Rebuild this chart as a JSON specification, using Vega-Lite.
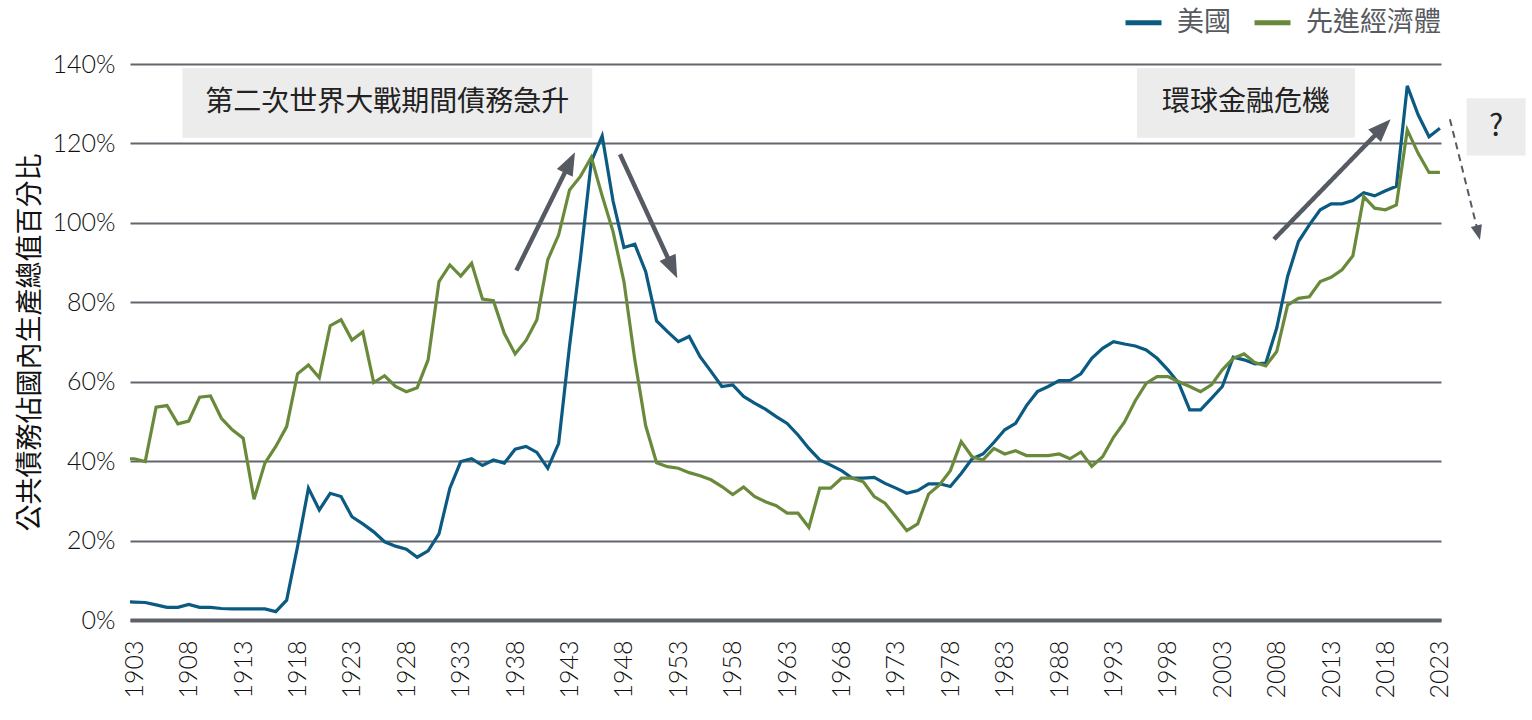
{
  "$schema": "https://vega.github.io/schema/vega-lite/v6.json",
  "autosize": {"type": "none"},
  "padding": {"left": 130, "top": 64, "right": 91, "bottom": 100},
  "width": 1311,
  "height": 556,
  "background": "white",
  "config": {
    "view": {"stroke": null},
    "font": "Noto Sans CJK TC",
    "axis": {
      "labelFont": "Lato",
      "labelFontWeight": 300,
      "labelColor": "#111111",
      "labelFontSize": 25,
      "ticks": false
    }
  },
  "datasets": {
    "debt": [
      {"year": 1902, "series": "美國", "value": 4.6},
      {"year": 1903, "series": "美國", "value": 4.5},
      {"year": 1904, "series": "美國", "value": 4.4},
      {"year": 1905, "series": "美國", "value": 3.8},
      {"year": 1906, "series": "美國", "value": 3.2},
      {"year": 1907, "series": "美國", "value": 3.2},
      {"year": 1908, "series": "美國", "value": 3.9},
      {"year": 1909, "series": "美國", "value": 3.2},
      {"year": 1910, "series": "美國", "value": 3.2},
      {"year": 1911, "series": "美國", "value": 2.9},
      {"year": 1912, "series": "美國", "value": 2.8},
      {"year": 1913, "series": "美國", "value": 2.8},
      {"year": 1914, "series": "美國", "value": 2.8},
      {"year": 1915, "series": "美國", "value": 2.8},
      {"year": 1916, "series": "美國", "value": 2.1},
      {"year": 1917, "series": "美國", "value": 5.0},
      {"year": 1918, "series": "美國", "value": 18.5},
      {"year": 1919, "series": "美國", "value": 33.2},
      {"year": 1920, "series": "美國", "value": 27.7},
      {"year": 1921, "series": "美國", "value": 31.9},
      {"year": 1922, "series": "美國", "value": 31.1},
      {"year": 1923, "series": "美國", "value": 26.0},
      {"year": 1924, "series": "美國", "value": 24.2},
      {"year": 1925, "series": "美國", "value": 22.2},
      {"year": 1926, "series": "美國", "value": 19.7},
      {"year": 1927, "series": "美國", "value": 18.6},
      {"year": 1928, "series": "美國", "value": 17.8},
      {"year": 1929, "series": "美國", "value": 15.8},
      {"year": 1930, "series": "美國", "value": 17.4},
      {"year": 1931, "series": "美國", "value": 21.7},
      {"year": 1932, "series": "美國", "value": 33.2},
      {"year": 1933, "series": "美國", "value": 39.9},
      {"year": 1934, "series": "美國", "value": 40.6},
      {"year": 1935, "series": "美國", "value": 38.9},
      {"year": 1936, "series": "美國", "value": 40.3},
      {"year": 1937, "series": "美國", "value": 39.5},
      {"year": 1938, "series": "美國", "value": 43.0},
      {"year": 1939, "series": "美國", "value": 43.7},
      {"year": 1940, "series": "美國", "value": 42.2},
      {"year": 1941, "series": "美國", "value": 38.2},
      {"year": 1942, "series": "美國", "value": 44.5},
      {"year": 1943, "series": "美國", "value": 69.0},
      {"year": 1944, "series": "美國", "value": 91.0},
      {"year": 1945, "series": "美國", "value": 115.4},
      {"year": 1946, "series": "美國", "value": 121.9},
      {"year": 1947, "series": "美國", "value": 105.5},
      {"year": 1948, "series": "美國", "value": 93.8},
      {"year": 1949, "series": "美國", "value": 94.6},
      {"year": 1950, "series": "美國", "value": 87.7},
      {"year": 1951, "series": "美國", "value": 75.3},
      {"year": 1952, "series": "美國", "value": 72.6},
      {"year": 1953, "series": "美國", "value": 70.1},
      {"year": 1954, "series": "美國", "value": 71.4},
      {"year": 1955, "series": "美國", "value": 66.3},
      {"year": 1956, "series": "美國", "value": 62.6},
      {"year": 1957, "series": "美國", "value": 58.8},
      {"year": 1958, "series": "美國", "value": 59.2},
      {"year": 1959, "series": "美國", "value": 56.3},
      {"year": 1960, "series": "美國", "value": 54.6},
      {"year": 1961, "series": "美國", "value": 53.1},
      {"year": 1962, "series": "美國", "value": 51.2},
      {"year": 1963, "series": "美國", "value": 49.5},
      {"year": 1964, "series": "美國", "value": 46.6},
      {"year": 1965, "series": "美國", "value": 43.2},
      {"year": 1966, "series": "美國", "value": 40.3},
      {"year": 1967, "series": "美國", "value": 39.0},
      {"year": 1968, "series": "美國", "value": 37.6},
      {"year": 1969, "series": "美國", "value": 35.7},
      {"year": 1970, "series": "美國", "value": 35.7},
      {"year": 1971, "series": "美國", "value": 35.9},
      {"year": 1972, "series": "美國", "value": 34.4},
      {"year": 1973, "series": "美國", "value": 33.2},
      {"year": 1974, "series": "美國", "value": 31.9},
      {"year": 1975, "series": "美國", "value": 32.6},
      {"year": 1976, "series": "美國", "value": 34.3},
      {"year": 1977, "series": "美國", "value": 34.3},
      {"year": 1978, "series": "美國", "value": 33.6},
      {"year": 1979, "series": "美國", "value": 36.9},
      {"year": 1980, "series": "美國", "value": 40.6},
      {"year": 1981, "series": "美國", "value": 41.8},
      {"year": 1982, "series": "美國", "value": 44.7},
      {"year": 1983, "series": "美國", "value": 47.9},
      {"year": 1984, "series": "美國", "value": 49.5},
      {"year": 1985, "series": "美國", "value": 54.0},
      {"year": 1986, "series": "美國", "value": 57.5},
      {"year": 1987, "series": "美國", "value": 58.8},
      {"year": 1988, "series": "美國", "value": 60.3},
      {"year": 1989, "series": "美國", "value": 60.3},
      {"year": 1990, "series": "美國", "value": 62.0},
      {"year": 1991, "series": "美國", "value": 65.9},
      {"year": 1992, "series": "美國", "value": 68.4},
      {"year": 1993, "series": "美國", "value": 70.1},
      {"year": 1994, "series": "美國", "value": 69.5},
      {"year": 1995, "series": "美國", "value": 69.0},
      {"year": 1996, "series": "美國", "value": 68.0},
      {"year": 1997, "series": "美國", "value": 65.9},
      {"year": 1998, "series": "美國", "value": 63.0},
      {"year": 1999, "series": "美國", "value": 59.6},
      {"year": 2000, "series": "美國", "value": 52.9},
      {"year": 2001, "series": "美國", "value": 52.9},
      {"year": 2002, "series": "美國", "value": 55.8},
      {"year": 2003, "series": "美國", "value": 58.8},
      {"year": 2004, "series": "美國", "value": 66.2},
      {"year": 2005, "series": "美國", "value": 65.5},
      {"year": 2006, "series": "美國", "value": 64.5},
      {"year": 2007, "series": "美國", "value": 64.7},
      {"year": 2008, "series": "美國", "value": 73.5},
      {"year": 2009, "series": "美國", "value": 86.5},
      {"year": 2010, "series": "美國", "value": 95.3},
      {"year": 2011, "series": "美國", "value": 99.5},
      {"year": 2012, "series": "美國", "value": 103.3},
      {"year": 2013, "series": "美國", "value": 104.8},
      {"year": 2014, "series": "美國", "value": 104.8},
      {"year": 2015, "series": "美國", "value": 105.6},
      {"year": 2016, "series": "美國", "value": 107.6},
      {"year": 2017, "series": "美國", "value": 106.8},
      {"year": 2018, "series": "美國", "value": 108.1},
      {"year": 2019, "series": "美國", "value": 109.2},
      {"year": 2020, "series": "美國", "value": 134.5},
      {"year": 2021, "series": "美國", "value": 127.2},
      {"year": 2022, "series": "美國", "value": 121.7},
      {"year": 2023, "series": "美國", "value": 123.8},
      {"year": 1902, "series": "先進經濟體", "value": 40.6},
      {"year": 1903, "series": "先進經濟體", "value": 40.6},
      {"year": 1904, "series": "先進經濟體", "value": 39.9},
      {"year": 1905, "series": "先進經濟體", "value": 53.6},
      {"year": 1906, "series": "先進經濟體", "value": 54.0},
      {"year": 1907, "series": "先進經濟體", "value": 49.4},
      {"year": 1908, "series": "先進經濟體", "value": 50.1},
      {"year": 1909, "series": "先進經濟體", "value": 56.1},
      {"year": 1910, "series": "先進經濟體", "value": 56.4},
      {"year": 1911, "series": "先進經濟體", "value": 50.8},
      {"year": 1912, "series": "先進經濟體", "value": 47.9},
      {"year": 1913, "series": "先進經濟體", "value": 45.8},
      {"year": 1914, "series": "先進經濟體", "value": 30.4},
      {"year": 1915, "series": "先進經濟體", "value": 39.5},
      {"year": 1916, "series": "先進經濟體", "value": 43.7},
      {"year": 1917, "series": "先進經濟體", "value": 48.7},
      {"year": 1918, "series": "先進經濟體", "value": 62.0},
      {"year": 1919, "series": "先進經濟體", "value": 64.2},
      {"year": 1920, "series": "先進經濟體", "value": 61.0},
      {"year": 1921, "series": "先進經濟體", "value": 74.1},
      {"year": 1922, "series": "先進經濟體", "value": 75.6},
      {"year": 1923, "series": "先進經濟體", "value": 70.5},
      {"year": 1924, "series": "先進經濟體", "value": 72.5},
      {"year": 1925, "series": "先進經濟體", "value": 59.8},
      {"year": 1926, "series": "先進經濟體", "value": 61.5},
      {"year": 1927, "series": "先進經濟體", "value": 58.8},
      {"year": 1928, "series": "先進經濟體", "value": 57.5},
      {"year": 1929, "series": "先進經濟體", "value": 58.5},
      {"year": 1930, "series": "先進經濟體", "value": 65.5},
      {"year": 1931, "series": "先進經濟體", "value": 85.2},
      {"year": 1932, "series": "先進經濟體", "value": 89.4},
      {"year": 1933, "series": "先進經濟體", "value": 86.6},
      {"year": 1934, "series": "先進經濟體", "value": 89.8},
      {"year": 1935, "series": "先進經濟體", "value": 80.8},
      {"year": 1936, "series": "先進經濟體", "value": 80.4},
      {"year": 1937, "series": "先進經濟體", "value": 72.2},
      {"year": 1938, "series": "先進經濟體", "value": 67.0},
      {"year": 1939, "series": "先進經濟體", "value": 70.4},
      {"year": 1940, "series": "先進經濟體", "value": 75.6},
      {"year": 1941, "series": "先進經濟體", "value": 90.7},
      {"year": 1942, "series": "先進經濟體", "value": 97.0},
      {"year": 1943, "series": "先進經濟體", "value": 108.3},
      {"year": 1944, "series": "先進經濟體", "value": 111.7},
      {"year": 1945, "series": "先進經濟體", "value": 116.5},
      {"year": 1946, "series": "先進經濟體", "value": 106.8},
      {"year": 1947, "series": "先進經濟體", "value": 97.8},
      {"year": 1948, "series": "先進經濟體", "value": 85.2},
      {"year": 1949, "series": "先進經濟體", "value": 65.5},
      {"year": 1950, "series": "先進經濟體", "value": 48.9},
      {"year": 1951, "series": "先進經濟體", "value": 39.6},
      {"year": 1952, "series": "先進經濟體", "value": 38.6},
      {"year": 1953, "series": "先進經濟體", "value": 38.2},
      {"year": 1954, "series": "先進經濟體", "value": 37.1},
      {"year": 1955, "series": "先進經濟體", "value": 36.3},
      {"year": 1956, "series": "先進經濟體", "value": 35.3},
      {"year": 1957, "series": "先進經濟體", "value": 33.6},
      {"year": 1958, "series": "先進經濟體", "value": 31.6},
      {"year": 1959, "series": "先進經濟體", "value": 33.5},
      {"year": 1960, "series": "先進經濟體", "value": 31.1},
      {"year": 1961, "series": "先進經濟體", "value": 29.8},
      {"year": 1962, "series": "先進經濟體", "value": 28.8},
      {"year": 1963, "series": "先進經濟體", "value": 26.9},
      {"year": 1964, "series": "先進經濟體", "value": 26.9},
      {"year": 1965, "series": "先進經濟體", "value": 23.3},
      {"year": 1966, "series": "先進經濟體", "value": 33.2},
      {"year": 1967, "series": "先進經濟體", "value": 33.2},
      {"year": 1968, "series": "先進經濟體", "value": 35.7},
      {"year": 1969, "series": "先進經濟體", "value": 35.7},
      {"year": 1970, "series": "先進經濟體", "value": 34.8},
      {"year": 1971, "series": "先進經濟體", "value": 31.1},
      {"year": 1972, "series": "先進經濟體", "value": 29.4},
      {"year": 1973, "series": "先進經濟體", "value": 26.0},
      {"year": 1974, "series": "先進經濟體", "value": 22.5},
      {"year": 1975, "series": "先進經濟體", "value": 24.2},
      {"year": 1976, "series": "先進經濟體", "value": 31.7},
      {"year": 1977, "series": "先進經濟體", "value": 34.0},
      {"year": 1978, "series": "先進經濟體", "value": 37.6},
      {"year": 1979, "series": "先進經濟體", "value": 44.9},
      {"year": 1980, "series": "先進經濟體", "value": 41.1},
      {"year": 1981, "series": "先進經濟體", "value": 40.3},
      {"year": 1982, "series": "先進經濟體", "value": 43.2},
      {"year": 1983, "series": "先進經濟體", "value": 41.8},
      {"year": 1984, "series": "先進經濟體", "value": 42.6},
      {"year": 1985, "series": "先進經濟體", "value": 41.4},
      {"year": 1986, "series": "先進經濟體", "value": 41.4},
      {"year": 1987, "series": "先進經濟體", "value": 41.4},
      {"year": 1988, "series": "先進經濟體", "value": 41.8},
      {"year": 1989, "series": "先進經濟體", "value": 40.6},
      {"year": 1990, "series": "先進經濟體", "value": 42.3},
      {"year": 1991, "series": "先進經濟體", "value": 38.7},
      {"year": 1992, "series": "先進經濟體", "value": 41.1},
      {"year": 1993, "series": "先進經濟體", "value": 46.0},
      {"year": 1994, "series": "先進經濟體", "value": 49.8},
      {"year": 1995, "series": "先進經濟體", "value": 55.2},
      {"year": 1996, "series": "先進經濟體", "value": 59.6},
      {"year": 1997, "series": "先進經濟體", "value": 61.3},
      {"year": 1998, "series": "先進經濟體", "value": 61.3},
      {"year": 1999, "series": "先進經濟體", "value": 60.0},
      {"year": 2000, "series": "先進經濟體", "value": 58.8},
      {"year": 2001, "series": "先進經濟體", "value": 57.5},
      {"year": 2002, "series": "先進經濟體", "value": 59.2},
      {"year": 2003, "series": "先進經濟體", "value": 63.0},
      {"year": 2004, "series": "先進經濟體", "value": 65.9},
      {"year": 2005, "series": "先進經濟體", "value": 67.0},
      {"year": 2006, "series": "先進經濟體", "value": 64.8},
      {"year": 2007, "series": "先進經濟體", "value": 64.0},
      {"year": 2008, "series": "先進經濟體", "value": 67.6},
      {"year": 2009, "series": "先進經濟體", "value": 79.3},
      {"year": 2010, "series": "先進經濟體", "value": 81.0},
      {"year": 2011, "series": "先進經濟體", "value": 81.4},
      {"year": 2012, "series": "先進經濟體", "value": 85.2},
      {"year": 2013, "series": "先進經濟體", "value": 86.3},
      {"year": 2014, "series": "先進經濟體", "value": 88.2},
      {"year": 2015, "series": "先進經濟體", "value": 91.7},
      {"year": 2016, "series": "先進經濟體", "value": 106.6},
      {"year": 2017, "series": "先進經濟體", "value": 103.7},
      {"year": 2018, "series": "先進經濟體", "value": 103.3},
      {"year": 2019, "series": "先進經濟體", "value": 104.5},
      {"year": 2020, "series": "先進經濟體", "value": 123.4},
      {"year": 2021, "series": "先進經濟體", "value": 117.5},
      {"year": 2022, "series": "先進經濟體", "value": 112.7},
      {"year": 2023, "series": "先進經濟體", "value": 112.7}
    ],
    "boxes": [
      {"label": "第二次世界大戰期間債務急升", "x1": 1907.41, "x2": 1945.09, "y1": 121.45, "y2": 138.93, "tx": 1926.25, "ty": 130.19},
      {"label": "環球金融危機", "x1": 1995.15, "x2": 2015.19, "y1": 121.45, "y2": 138.93, "tx": 2005.17, "ty": 130.19},
      {"label": "?", "x1": 2025.46, "x2": 2030.88, "y1": 116.93, "y2": 131.38, "tx": 2028.17, "ty": 124.15}
    ],
    "arrows": [
      {"id": "a1", "x": 1938.12, "y": 88.01, "sx": 1943.01, "sy": 115.07, "tx": 1943.5, "ty": 117.78},
      {"id": "a2", "x": 1947.64, "y": 117.27, "sx": 1952.44, "sy": 88.79, "tx": 1952.9, "ty": 86.05},
      {"id": "a3", "x": 2007.75, "y": 95.87, "sx": 2017.7, "sy": 123.92, "tx": 2018.47, "ty": 126.09},
      {"id": "a4", "x": 2023.92, "y": 126.09, "sx": 2026.51, "sy": 97.66, "tx": 2026.68, "ty": 95.69}
    ]
  },
  "layer": [
    {
      "data": {"name": "boxes"},
      "mark": {"type": "rect", "color": "#ececec"},
      "encoding": {
        "x": {
          "field": "x1",
          "type": "quantitative",
          "title": null,
          "scale": {"domain": [1902.6, 2023.1], "nice": false, "zero": false},
          "axis": {
            "title": null,
            "grid": false,
            "values": [1903, 1908, 1913, 1918, 1923, 1928, 1933, 1938, 1943, 1948, 1953, 1958, 1963, 1968, 1973, 1978, 1983, 1988, 1993, 1998, 2003, 2008, 2013, 2018, 2023],
            "format": "d",
            "labelAngle": 270,
            "labelPadding": 20,
            "labelFlush": false,
            "labelOverlap": false,
            "domain": true,
            "domainColor": "#5e6167",
            "domainWidth": 4
          }
        },
        "x2": {"field": "x2"},
        "y": {
          "field": "y1",
          "type": "quantitative",
          "title": "公共債務佔國內生產總值百分比",
          "scale": {"domain": [0, 140], "nice": false},
          "axis": {
            "values": [0, 20, 40, 60, 80, 100, 120, 140],
            "labelExpr": "datum.value + '%'",
            "labelPadding": 15,
            "domain": false,
            "grid": true,
            "gridColor": "#63666c",
            "gridWidth": 2,
            "title": "公共債務佔國內生產總值百分比",
            "titleFont": "Noto Sans CJK TC",
            "titleFontSize": 27,
            "titleFontWeight": "normal",
            "titleColor": "#111111",
            "titlePadding": 8
          }
        },
        "y2": {"field": "y2"}
      }
    },
    {
      "data": {"name": "debt"},
      "mark": {"type": "line", "strokeWidth": 3.2, "clip": true},
      "encoding": {
        "x": {"field": "year", "type": "quantitative", "title": null, "scale": {"domain": [1902.6, 2023.1], "nice": false, "zero": false}},
        "y": {"field": "value", "type": "quantitative", "scale": {"domain": [0, 140], "nice": false}},
        "color": {
          "field": "series",
          "type": "nominal",
          "sort": ["美國", "先進經濟體"],
          "scale": {"domain": ["美國", "先進經濟體"], "range": ["#0b5a82", "#6a8a3b"]},
          "legend": {
            "title": null,
            "orient": "none",
            "direction": "horizontal",
            "legendX": 993,
            "legendY": -62,
            "symbolType": "stroke",
            "symbolSize": 1296,
            "symbolStrokeWidth": 5,
            "labelFont": "Noto Sans CJK TC",
            "labelFontSize": 27,
            "labelColor": "#575a60",
            "labelOffset": 13,
            "columnPadding": 13
          }
        }
      }
    },
    {
      "data": {"name": "arrows"},
      "mark": {"type": "rule", "color": "#565a62", "strokeCap": "butt"},
      "encoding": {
        "x": {"field": "x", "type": "quantitative", "title": null, "scale": {"domain": [1902.6, 2023.1], "nice": false, "zero": false}},
        "y": {"field": "y", "type": "quantitative", "scale": {"domain": [0, 140], "nice": false}},
        "x2": {"field": "sx"},
        "y2": {"field": "sy"},
        "strokeWidth": {"condition": {"test": "datum.id === 'a4'", "value": 2}, "value": 4.5},
        "strokeDash": {"condition": {"test": "datum.id === 'a4'", "value": [7, 5]}, "value": [1, 0]}
      }
    },
    {
      "data": {"name": "arrows"},
      "mark": {"type": "point", "filled": true, "opacity": 1, "color": "#565a62", "shape": "M0,0L0.5,1.3L-0.5,1.3Z"},
      "encoding": {
        "x": {"field": "tx", "type": "quantitative", "title": null, "scale": {"domain": [1902.6, 2023.1], "nice": false, "zero": false}},
        "y": {"field": "ty", "type": "quantitative", "scale": {"domain": [0, 140], "nice": false}},
        "angle": {
          "condition": [
            {"test": "datum.id === 'a1'", "value": 26.3},
            {"test": "datum.id === 'a2'", "value": 155.2},
            {"test": "datum.id === 'a3'", "value": 44.2}
          ],
          "value": 166
        },
        "size": {"condition": {"test": "datum.id === 'a4'", "value": 520}, "value": 1250}
      }
    },
    {
      "data": {"name": "boxes"},
      "mark": {"type": "text", "font": "Noto Sans CJK TC", "color": "#222222", "baseline": "middle", "align": "center"},
      "encoding": {
        "x": {"field": "tx", "type": "quantitative", "title": null, "scale": {"domain": [1902.6, 2023.1], "nice": false, "zero": false}},
        "y": {"field": "ty", "type": "quantitative", "scale": {"domain": [0, 140], "nice": false}},
        "text": {"field": "label"},
        "size": {"condition": {"test": "datum.label === '?'", "value": 30}, "value": 28}
      }
    }
  ]
}
